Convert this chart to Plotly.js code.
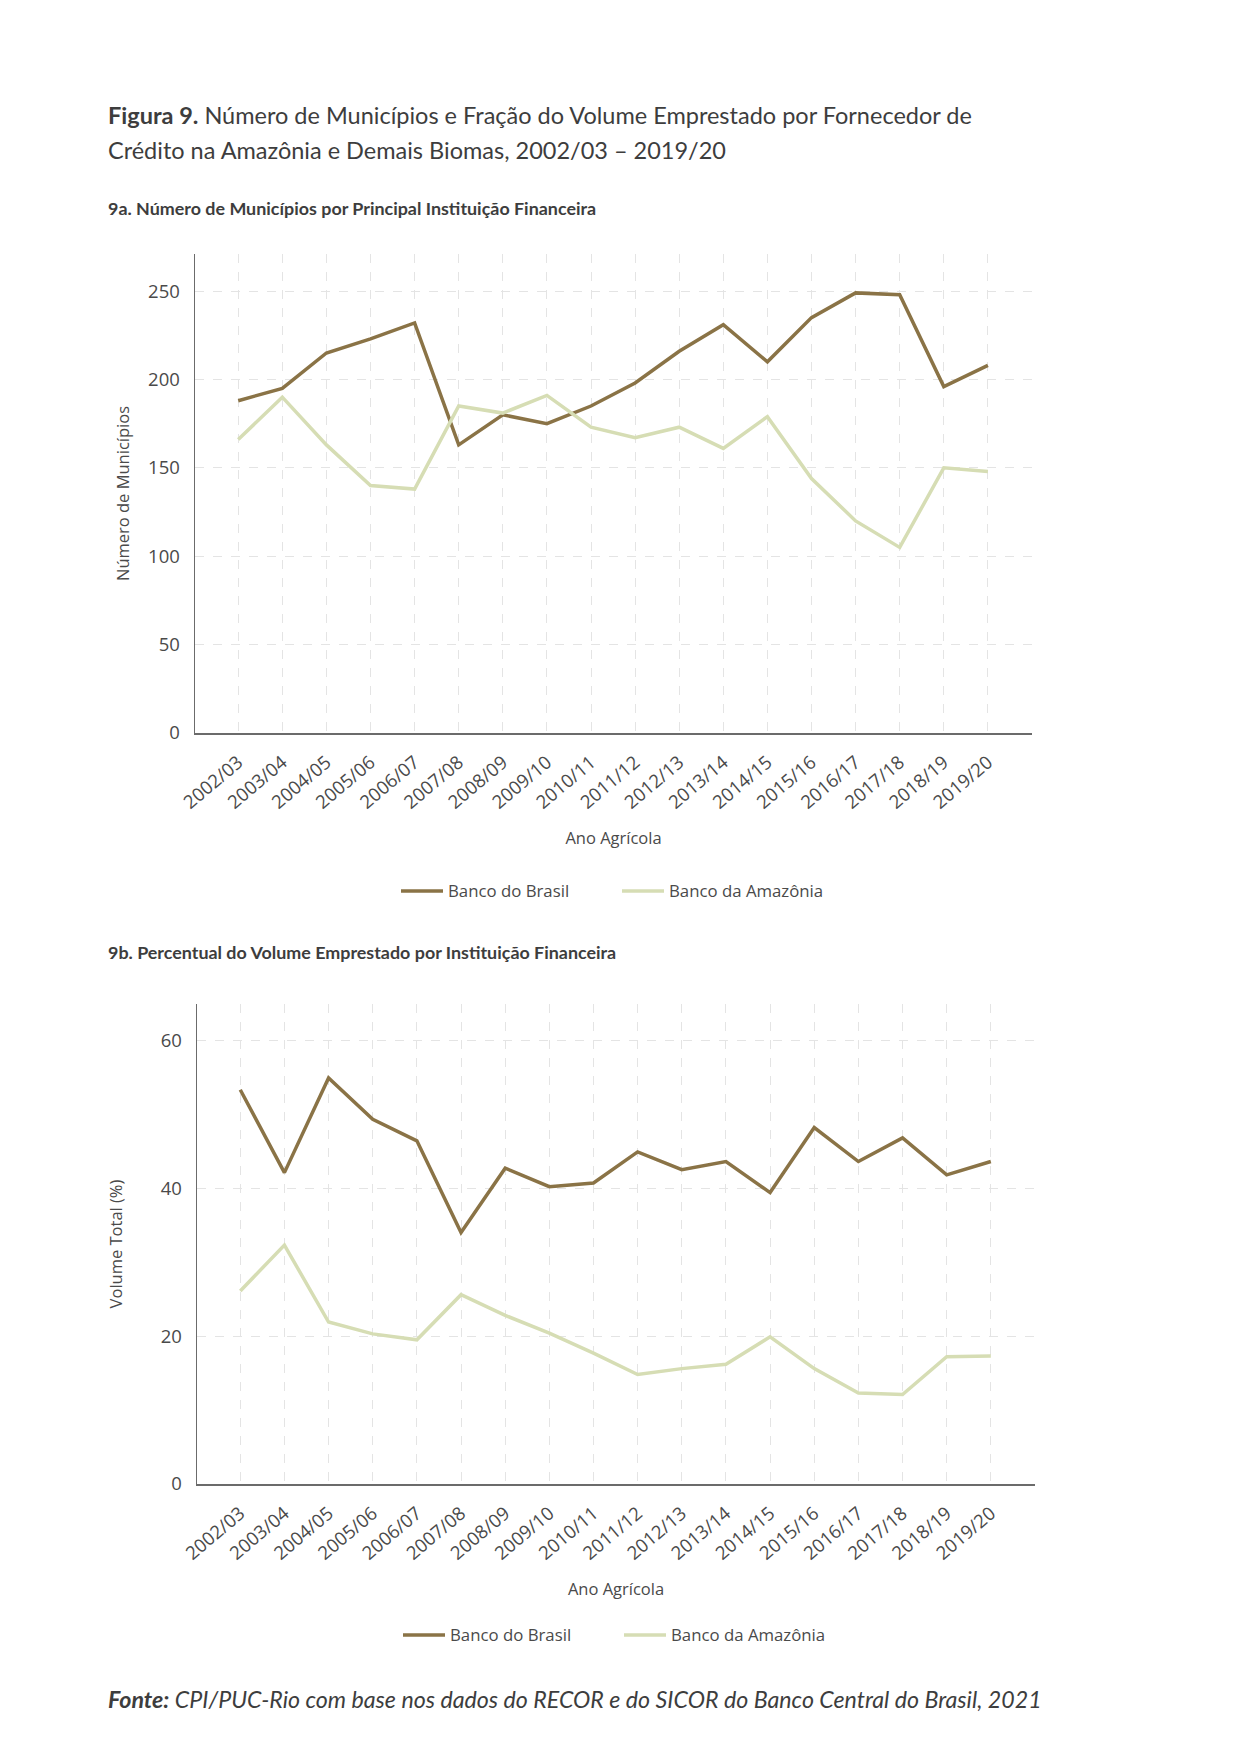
<!DOCTYPE html>
<html>
<head>
<meta charset="utf-8">
<script src="https://cdn.plot.ly/plotly-3.0.1.min.js"></script>
<style>
  html, body { margin: 0; padding: 0; background: #ffffff; }
  #chart { width: 1241px; height: 1754px; }
</style>
</head>
<body>
<div id="chart"></div>
<script>
// ---- Data ----
const anos = ["2002/03","2003/04","2004/05","2005/06","2006/07","2007/08","2008/09","2009/10","2010/11",
              "2011/12","2012/13","2013/14","2014/15","2015/16","2016/17","2017/18","2018/19","2019/20"];

// 9a. Número de Municípios
const municipiosBrasil   = [188, 195, 215, 223, 232, 163, 180, 175, 185, 198, 216, 231, 210, 235, 249, 248, 196, 208];
const municipiosAmazonia = [166, 190, 163, 140, 138, 185, 181, 191, 173, 167, 173, 161, 179, 144, 120, 105, 150, 148];

// 9b. Percentual do Volume Emprestado
const volumeBrasil   = [53.3, 42.1, 54.9, 49.3, 46.4, 34.0, 42.7, 40.2, 40.7, 44.9, 42.5, 43.6, 39.4, 48.2, 43.6, 46.8, 41.8, 43.6];
const volumeAmazonia = [26.1, 32.3, 21.9, 20.3, 19.5, 25.6, 22.8, 20.4, 17.7, 14.8, 15.6, 16.2, 19.9, 15.6, 12.3, 12.1, 17.2, 17.3];

const nomes = ["Banco do Brasil", "Banco da Amazônia"];
const cores = ["#8a7346", "#d6ddb4"];

// ---- Layout helpers ----
const W = 1241, H = 1754;
const px = v => v / W;
const py = v => 1 - v / H;

const tickFont = {family: "Open Sans, sans-serif", size: 18.5, color: "#4a4a4a"};
const titleFont = {family: "Open Sans, sans-serif", size: 16.5, color: "#4a4a4a"};

function xAxis(domain, anchor) {
  return {
    domain: domain, anchor: anchor, type: "category",
    range: [-0.98, 18], tickangle: -40,
    showgrid: true, gridcolor: "#e4e4e4", griddash: "dash", gridwidth: 1,
    showline: true, linecolor: "#6b6b6b", linewidth: 1.5,
    ticks: "outside", ticklen: 10, tickcolor: "rgba(0,0,0,0)",
    tickfont: tickFont, zeroline: false, fixedrange: true,
    title: {text: "Ano Agrícola", font: titleFont, standoff: 20}
  };
}
function yAxis(domain, anchor, range, dtick, title, standoff) {
  return {
    domain: domain, anchor: anchor, range: range, dtick: dtick,
    showgrid: true, gridcolor: "#e4e4e4", griddash: "dash", gridwidth: 1,
    showline: true, linecolor: "#6b6b6b", linewidth: 1.5,
    ticks: "outside", ticklen: 10, tickcolor: "rgba(0,0,0,0)",
    tickfont: tickFont, zeroline: false, fixedrange: true,
    title: {text: title, font: titleFont, standoff: standoff}
  };
}

const traces = [
  {x: anos, y: municipiosBrasil,   name: nomes[0], type: "scatter", mode: "lines",
   line: {color: cores[0], width: 3.5}, xaxis: "x", yaxis: "y", legend: "legend"},
  {x: anos, y: municipiosAmazonia, name: nomes[1], type: "scatter", mode: "lines",
   line: {color: cores[1], width: 3.5}, xaxis: "x", yaxis: "y", legend: "legend"},
  {x: anos, y: volumeBrasil,   name: nomes[0], type: "scatter", mode: "lines",
   line: {color: cores[0], width: 3.5}, xaxis: "x2", yaxis: "y2", legend: "legend2"},
  {x: anos, y: volumeAmazonia, name: nomes[1], type: "scatter", mode: "lines",
   line: {color: cores[1], width: 3.5}, xaxis: "x2", yaxis: "y2", legend: "legend2"}
];

const legendBase = {
  orientation: "h", xanchor: "center", yanchor: "middle",
  font: {family: "Open Sans, sans-serif", size: 16.8, color: "#4a4a4a"},
  itemwidth: 42, entrywidth: 164, tracegroupgap: 0, bgcolor: "rgba(0,0,0,0)"
};

const layout = {
  width: W, height: H,
  margin: {l: 0, r: 0, t: 0, b: 0},
  paper_bgcolor: "#ffffff", plot_bgcolor: "#ffffff",
  showlegend: true,
  xaxis:  xAxis([px(195), px(1032)], "y"),
  yaxis:  yAxis([py(733), py(254)], "x", [0, 271], 50, "Número de Municípios", 14),
  xaxis2: xAxis([px(197), px(1035)], "y2"),
  yaxis2: yAxis([py(1484), py(1004)], "x2", [0, 64.9], 20, "Volume Total (%)", 34),
  legend:  Object.assign({}, legendBase, {x: px(617), y: py(891)}),
  legend2: Object.assign({}, legendBase, {x: px(619), y: py(1635)}),
  annotations: [
    {xref: "paper", yref: "paper", x: px(106), y: py(115), xanchor: "left", yanchor: "middle", showarrow: false,
     text: "<b>Figura 9.</b> Número de Municípios e Fração do Volume Emprestado por Fornecedor de",
     font: {family: "Lato, sans-serif", size: 23.5, color: "#3d3d3d"}},
    {xref: "paper", yref: "paper", x: px(106), y: py(150), xanchor: "left", yanchor: "middle", showarrow: false,
     text: "Crédito na Amazônia e Demais Biomas, 2002/03 – 2019/20",
     font: {family: "Lato, sans-serif", size: 23.5, color: "#3d3d3d"}},
    {xref: "paper", yref: "paper", x: px(106), y: py(208), xanchor: "left", yanchor: "middle", showarrow: false,
     text: "<b>9a. Número de Municípios por Principal Instituição Financeira</b>",
     font: {family: "Lato, sans-serif", size: 17.9, color: "#3d3d3d"}},
    {xref: "paper", yref: "paper", x: px(106), y: py(952), xanchor: "left", yanchor: "middle", showarrow: false,
     text: "<b>9b. Percentual do Volume Emprestado por Instituição Financeira</b>",
     font: {family: "Lato, sans-serif", size: 17.9, color: "#3d3d3d"}},
    {xref: "paper", yref: "paper", x: px(106), y: py(1699), xanchor: "left", yanchor: "middle", showarrow: false,
     text: "<b><i>Fonte:</i></b><i> CPI/PUC-Rio com base nos dados do RECOR e do SICOR do Banco Central do Brasil, 2021</i>",
     font: {family: "Lato, sans-serif", size: 23.2, color: "#3d3d3d"}}
  ]
};

Plotly.newPlot("chart", traces, layout, {displayModeBar: false, staticPlot: true});
</script>
</body>
</html>
